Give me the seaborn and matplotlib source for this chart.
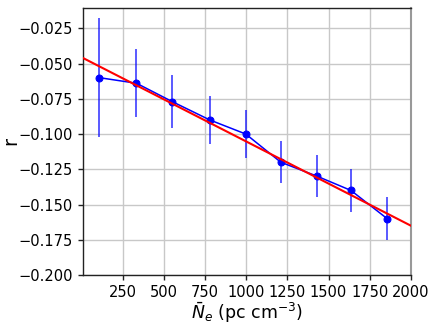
import numpy as np
import pandas as pd
import matplotlib
matplotlib.use("Agg")
import matplotlib.pyplot as plt
import seaborn as sns

ne = [106, 333, 550, 778, 997, 1210, 1432, 1636, 1856]
r = [-0.060, -0.064, -0.077, -0.090, -0.100, -0.120, -0.130, -0.140, -0.160]
r_err = [0.042, 0.024, 0.019, 0.017, 0.017, 0.015, 0.015, 0.015, 0.015]
fit_slope = -5.97e-5
fit_intercept = -0.0456
xticks = [250, 500, 750, 1000, 1250, 1500, 1750, 2000]
yticks = [-0.200, -0.175, -0.150, -0.125, -0.100, -0.075, -0.050, -0.025]

sns.set_style("whitegrid")
plt.rcParams['font.family'] = ['DejaVu Sans']

fig = plt.figure(figsize=(4.36, 3.27), dpi=100)
ax = fig.add_axes([0.19, 0.159, 0.753, 0.817])

df = pd.DataFrame({"ne": ne, "r": r})
ax.errorbar(ne, r, yerr=r_err, fmt="none", ecolor="blue", elinewidth=1.3, alpha=0.7, zorder=2)
sns.lineplot(data=df, x="ne", y="r", ax=ax, color="blue", marker="o", markersize=5,
             markeredgecolor="blue", linewidth=1.1, zorder=3)

xlim = (7, 2002)
xx = np.array(xlim, dtype=float)
sns.lineplot(x=xx, y=fit_intercept + fit_slope * xx, ax=ax, color="red", linewidth=1.5, zorder=4)

ax.set_xlim(*xlim)
ax.set_ylim(-0.2, -0.0105)
ax.set_xticks(xticks)
ax.set_yticks(yticks)
ax.tick_params(axis="both", labelsize=10.5, length=3.5, width=1.0, color="#222222",
               labelcolor="black", left=True, bottom=True)
ax.grid(True, color="#c8c8c8", linewidth=1.0)
for s in ["left", "bottom", "top"]:
    ax.spines[s].set_color("#222222")
    ax.spines[s].set_linewidth(1.0)
ax.spines["right"].set_color("#999999")
ax.spines["right"].set_linewidth(1.5)

ax.set_xlabel(r"$\bar{N}_e$ (pc cm$^{-3}$)", fontsize=12.5, color="black")
ax.set_ylabel("r", fontsize=14, color="black")
ax.yaxis.set_label_coords(-0.19, 0.5)
ax.xaxis.set_label_coords(0.5, -0.095)
ax.xaxis.label.set_va("top")

fig.savefig("out.png", dpi=100)
